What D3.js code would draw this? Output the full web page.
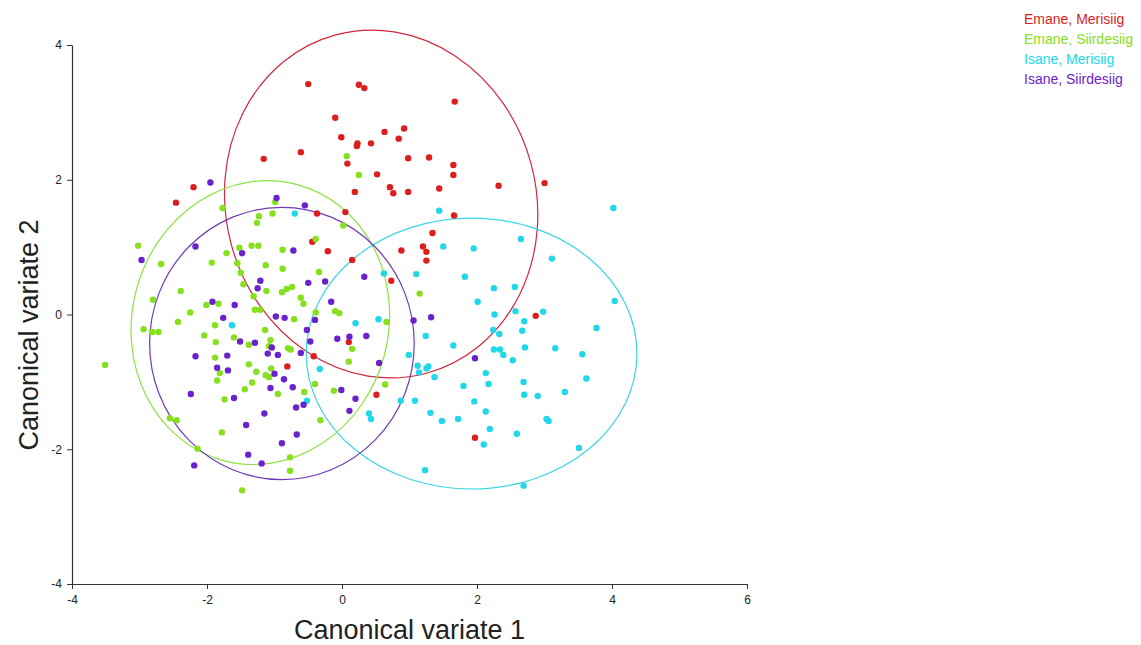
<!DOCTYPE html>
<html><head><meta charset="utf-8">
<script src="https://cdn.jsdelivr.net/npm/d3@7"></script>
<style>
html,body{margin:0;padding:0;background:#fff;}
svg{display:block;font-family:"Liberation Sans",Arial,sans-serif;}
</style></head>
<body>
<svg id="chart" width="1141" height="645"></svg>
<script>
// ---- data ----
const groups = ["Emane, Merisiig","Emane, Siirdesiig","Isane, Merisiig","Isane, Siirdesiig"];
const colors = ["#dc1e1e","#86e01e","#22d8e8","#6a22cc"];
const ellipseColors = ["#d0283a","#8fe040","#3ad6e2","#6e3ab8"];
const xTicks = [-4,-2,0,2,4,6];
const yTicks = [-4,-2,0,2,4];

const emaneMerisiig = [[-1.16,2.31],[-2.20,1.89],[-2.46,1.66],[-0.50,3.42],[0.25,3.41],[0.33,3.36],[1.67,3.16],[-0.10,2.92],[0.92,2.76],[0.63,2.71],[0.84,2.61],[-0.01,2.63],[0.23,2.54],[0.22,2.50],[0.43,2.54],[-0.61,2.41],[0.08,2.24],[0.98,2.32],[1.29,2.33],[1.65,2.22],[1.65,2.07],[0.52,2.08],[0.19,1.82],[0.71,1.89],[0.76,1.80],[0.98,1.82],[1.44,1.87],[-0.37,1.50],[0.05,1.52],[1.66,1.47],[2.32,1.91],[3.00,1.95],[-0.44,1.08],[-0.21,0.94],[1.34,1.21],[0.88,0.95],[1.20,1.01],[1.25,0.93],[1.25,0.80],[0.15,0.81],[0.73,0.50],[0.10,-0.41],[-0.42,-0.62],[2.87,-0.02],[-0.81,-0.77],[0.51,-1.19],[1.97,-1.83]];

const emaneSiirdesiig = [[-1.77,1.58],[-0.99,1.67],[-1.03,1.50],[-1.23,1.46],[0.07,2.35],[0.25,2.07],[-1.26,1.36],[-3.02,1.02],[-1.52,0.99],[-1.34,1.02],[-1.24,1.02],[-1.71,0.91],[-2.68,0.75],[-1.93,0.77],[-1.55,0.76],[-1.13,0.73],[-1.50,0.62],[-1.46,0.45],[-1.12,0.35],[-2.39,0.35],[-1.31,0.27],[-2.80,0.22],[-2.01,0.14],[-1.83,0.16],[-1.29,0.07],[-1.21,0.07],[-2.25,0.03],[-2.43,-0.11],[-1.88,-0.16],[-2.94,-0.22],[-2.81,-0.26],[-2.72,-0.26],[-1.14,-0.23],[-2.04,-0.31],[-1.60,-0.34],[-1.06,-0.38],[-1.87,-0.41],[-1.38,-0.45],[-1.08,-0.47],[-1.88,-0.64],[0.02,1.32],[-0.39,1.12],[-0.88,0.96],[-0.88,0.68],[-0.34,0.63],[-0.74,0.41],[-0.82,0.38],[-0.89,0.33],[-0.61,0.25],[-0.57,0.16],[1.15,0.31],[-0.39,0.03],[-0.10,0.05],[-0.04,0.02],[-0.71,-0.07],[0.66,-0.11],[-0.80,-0.50],[-0.76,-0.52],[0.15,-0.51],[-3.51,-0.75],[-1.81,-0.87],[-1.38,-0.74],[-1.27,-0.85],[-1.05,-0.80],[-1.13,-0.90],[-1.08,-0.93],[-1.85,-0.98],[-1.33,-1.01],[-1.44,-1.11],[-0.95,-1.18],[-1.74,-1.26],[-2.55,-1.54],[-2.45,-1.57],[-1.78,-1.75],[-2.14,-1.99],[-1.48,-2.61],[0.10,-0.70],[-0.40,-1.03],[-0.56,-1.15],[-0.12,-1.13],[0.64,-1.04],[-0.32,-1.57],[-0.77,-2.12],[-0.77,-2.32]];

const isaneMerisiig = [[-0.70,1.50],[1.44,1.54],[4.02,1.58],[1.50,1.01],[0.62,0.61],[1.10,0.60],[0.54,-0.07],[0.20,-0.13],[1.24,-0.32],[1.65,-0.46],[0.99,-0.60],[-1.63,-0.16],[2.65,1.12],[1.95,0.98],[3.11,0.83],[1.82,0.56],[2.25,0.39],[2.56,0.41],[4.04,0.20],[2.01,0.19],[2.57,0.05],[2.98,0.04],[2.26,0.00],[2.70,-0.10],[3.77,-0.20],[2.24,-0.23],[2.33,-0.29],[2.67,-0.24],[2.25,-0.52],[2.34,-0.52],[2.71,-0.49],[3.16,-0.50],[2.39,-0.60],[3.56,-0.59],[2.53,-0.68],[-0.33,-0.81],[-0.52,-1.28],[0.40,-1.47],[0.43,-1.55],[1.12,-0.76],[1.14,-0.86],[1.25,-0.80],[1.28,-0.77],[1.37,-0.93],[0.87,-1.28],[1.08,-1.28],[1.31,-1.46],[1.48,-1.58],[1.72,-1.55],[1.23,-2.31],[2.13,-0.87],[1.80,-1.06],[2.17,-1.03],[2.69,-1.00],[3.62,-0.95],[2.70,-1.19],[2.90,-1.21],[3.30,-1.15],[1.96,-1.29],[2.13,-1.44],[3.03,-1.55],[3.06,-1.58],[2.19,-1.70],[2.59,-1.77],[2.10,-1.93],[3.51,-1.98],[2.69,-2.54]];

const isaneSiirdesiig = [[-1.95,1.96],[-0.97,1.73],[-2.17,1.01],[-1.48,0.91],[-2.97,0.81],[-1.21,0.50],[-1.25,0.39],[-1.92,0.19],[-1.59,0.14],[-1.76,-0.05],[-0.98,-0.03],[-1.51,-0.40],[-1.29,-0.42],[-1.04,-0.49],[-1.10,-0.58],[-0.95,-0.60],[-2.17,-0.62],[-1.70,-0.61],[-0.55,1.62],[-0.72,0.95],[0.33,0.56],[-0.50,0.47],[-0.25,0.49],[-0.16,0.19],[-0.85,-0.05],[-0.40,-0.08],[1.06,-0.09],[1.32,-0.04],[-0.52,-0.23],[-0.47,-0.40],[-0.07,-0.36],[0.11,-0.33],[0.36,-0.32],[-0.61,-0.57],[1.97,-0.65],[-1.85,-0.79],[-1.69,-0.83],[-1.00,-0.88],[-1.06,-1.09],[-2.24,-1.18],[-1.60,-1.24],[-1.15,-1.47],[-1.42,-1.64],[-1.39,-2.08],[-1.19,-2.21],[-2.19,-2.24],[0.55,-0.72],[-0.86,-0.96],[-0.73,-1.08],[-0.01,-1.12],[0.20,-1.25],[-0.57,-1.34],[-0.68,-1.38],[0.11,-1.43],[-0.67,-1.78],[-0.89,-1.91]];

// ellipse: centre x, centre y, half-axis along x, half-axis along y, rotation (deg)
const ellipseCx = [0.58,-1.21,1.92,-0.89];
const ellipseCy = [1.64,-0.12,-0.58,-0.43];
const ellipseA  = [2.30,1.90,2.45,1.96];
const ellipseB  = [2.60,2.12,2.01,2.02];
const ellipseRot= [-15,15,0,0];

const seriesPoints = [emaneMerisiig, emaneSiirdesiig, isaneMerisiig, isaneSiirdesiig];

// ---- drawing ----
const svg = d3.select("#chart");
const x = d3.scaleLinear().domain([-4,6]).range([72,747]);
const y = d3.scaleLinear().domain([-4,4]).range([584,45]);

const fmt = d => String(d);

const gx = svg.append("g").attr("transform","translate(0,584)")
  .call(d3.axisBottom(x).tickValues(xTicks).tickFormat(fmt).tickSize(5).tickPadding(6).tickSizeOuter(0));
const gy = svg.append("g").attr("transform","translate(72,0)")
  .call(d3.axisLeft(y).tickValues(yTicks).tickFormat(fmt).tickSize(5).tickPadding(5).tickSizeOuter(0));
[gx,gy].forEach(g=>{
  g.select(".domain").attr("stroke","#333").attr("stroke-width",1.2);
  g.selectAll(".tick line").attr("stroke","#333");
  g.selectAll(".tick text").attr("fill","#222").style("font-size","12px").style("font-family","'Liberation Sans',Arial,sans-serif");
});

// ellipses
const ell = svg.append("g").attr("fill","none").attr("stroke-width",1.2);
groups.forEach((g,i)=>{
  const cx = x(ellipseCx[i]), cy = y(ellipseCy[i]);
  ell.append("ellipse")
    .attr("cx",cx).attr("cy",cy)
    .attr("rx", x(ellipseCx[i]+ellipseA[i]) - cx)
    .attr("ry", cy - y(ellipseCy[i]+ellipseB[i]))
    .attr("transform",`rotate(${ellipseRot[i]},${cx},${cy})`)
    .attr("stroke", ellipseColors[i]);
});

// points
seriesPoints.forEach((pts,i)=>{
  svg.append("g").selectAll("circle").data(pts).join("circle")
    .attr("cx",d=>x(d[0])).attr("cy",d=>y(d[1])).attr("r",3.2)
    .attr("fill",colors[i]);
});

// axis titles
svg.append("text").attr("x",409.5).attr("y",639).attr("text-anchor","middle")
  .style("font-size","27px").attr("fill","#222").text("Canonical variate 1");
svg.append("text").attr("transform","translate(38,335) rotate(-90)").attr("text-anchor","middle")
  .style("font-size","27px").attr("fill","#222").text("Canonical variate 2");

// legend
svg.append("g").selectAll("text").data(groups).join("text")
  .attr("x",1024).attr("y",(d,i)=>24+i*20)
  .style("font-size","14px").attr("fill",(d,i)=>colors[i]).text(d=>d);
</script>
</body></html>
